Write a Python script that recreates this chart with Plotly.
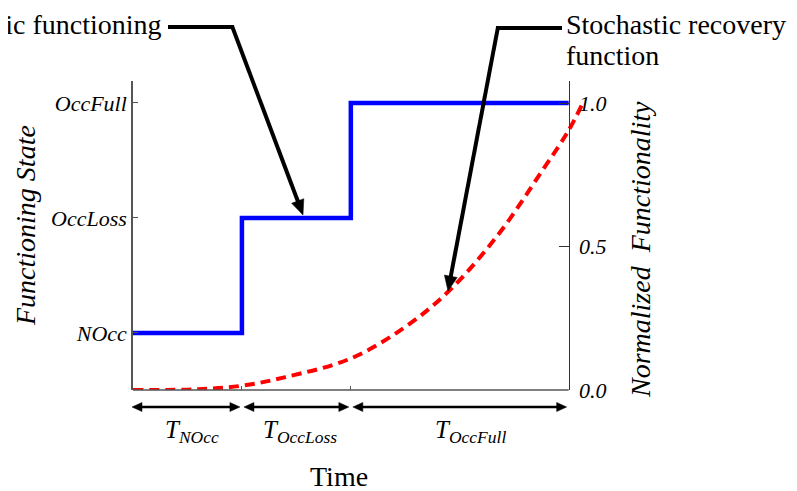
import math
import plotly.graph_objects as go

# ---- data ----
time_steps = [0, 1, 2, 4]
state_levels = [1, 2, 3, 3]
state_ticks = [1, 2, 3]
state_labels = ["NOcc", "OccLoss", "OccFull"]

rec_t = [0, 0.6, 1.0, 1.4, 2.0, 2.5, 2.9, 3.35, 3.75, 4.0, 4.13]
rec_v = [0, 0.003, 0.015, 0.045, 0.11, 0.22, 0.345, 0.54, 0.76, 0.905, 1.0]

func_ticks = [0.0, 0.5, 1.0]
func_labels = ["0.0", "0.5", "1.0"]

phase_starts = [0, 1, 2]
phase_ends = [1, 2, 4]
phase_labels = ["T<sub>NOcc</sub>", "T<sub>OccLoss</sub>", "T<sub>OccFull</sub>"]

# ---- layout constants (page has an 8px body margin) ----
OFF = 8
W, H = 797 - OFF, 491 - OFF
PLOT_L, PLOT_R, PLOT_T, PLOT_B = 133, 585, 81, 390   # page pixels of plot area
ML, MT = PLOT_L - OFF, PLOT_T - OFF
MR, MB = W - (PLOT_R - OFF), H - (PLOT_B - OFF)
PW, PH = PLOT_R - PLOT_L, PLOT_B - PLOT_T
XMAX = 4.15

def px2paper_x(px):
    return (px - PLOT_L) / PW

def px2paper_y(py):
    return (PLOT_B - py) / PH

def t2px(t):
    return PLOT_L + t / XMAX * PW

FONT = "Liberation Serif"
GREY = "#555555"

def arrow_shapes(x0, y0, x1, y1, lw, hl, hw, both=False, color="black"):
    """Arrow in page pixels, head at (x1, y1); returns plotly shapes in paper coords."""
    dx, dy = x1 - x0, y1 - y0
    L = math.hypot(dx, dy)
    ux, uy = dx / L, dy / L
    nx, ny = -uy, ux
    out = []

    def head(tx, ty, sx, sy):
        bx, by = tx - sx * hl, ty - sy * hl
        pts = [(tx, ty), (bx + nx * hw / 2, by + ny * hw / 2), (bx - nx * hw / 2, by - ny * hw / 2)]
        path = "M " + " L ".join(f"{px2paper_x(a):.5f},{px2paper_y(b):.5f}" for a, b in pts) + " Z"
        out.append(dict(type="path", xref="paper", yref="paper", path=path,
                        fillcolor=color, line=dict(color=color, width=0.5)))

    ex, ey = x1 - ux * hl * 0.6, y1 - uy * hl * 0.6
    sx0, sy0 = (x0 + ux * hl * 0.6, y0 + uy * hl * 0.6) if both else (x0, y0)
    out.append(dict(type="line", xref="paper", yref="paper",
                    x0=px2paper_x(sx0), y0=px2paper_y(sy0), x1=px2paper_x(ex), y1=px2paper_y(ey),
                    line=dict(color=color, width=lw)))
    head(x1, y1, ux, uy)
    if both:
        head(x0, y0, -ux, -uy)
    return out

fig = go.Figure()
fig.add_trace(go.Scatter(
    x=time_steps, y=state_levels, mode="lines",
    line=dict(shape="hv", color="#0000FF", width=4.5),
    yaxis="y", showlegend=False, hoverinfo="skip"))
fig.add_trace(go.Scatter(
    x=rec_t, y=rec_v, mode="lines",
    line=dict(shape="spline", smoothing=1, color="#FF0000", width=4, dash="10px,6px"),
    yaxis="y2", showlegend=False, hoverinfo="skip"))

annotations = []
shapes = []

# bottom axis line
shapes.append(dict(type="line", xref="x", yref="paper", x0=0, x1=4, y0=0, y1=0,
                   line=dict(color=GREY, width=1.5)))

# phase double arrows + labels
label_shift = [5, 4, 11]
for s, e, lab, sh in zip(phase_starts, phase_ends, phase_labels, label_shift):
    xs = t2px(s) + (2 if s > 0 else -1)
    xe = t2px(e) - 2
    shapes.extend(arrow_shapes(xs, 407, xe, 407, 2.5, 10, 9, both=True))
    annotations.append(dict(
        x=(s + e) / 2, y=px2paper_y(431), xref="x", yref="paper",
        xshift=sh, text=lab, showarrow=False, xanchor="center", yanchor="middle",
        font=dict(family=FONT, size=25, color="black", style="italic")))

# Time label
annotations.append(dict(x=px2paper_x(339), y=px2paper_y(477), xref="paper", yref="paper",
                        text="Time", showarrow=False, xanchor="center", yanchor="middle",
                        font=dict(family=FONT, size=28, color="black")))

# axis titles
annotations.append(dict(x=px2paper_x(25), y=px2paper_y(226), xref="paper", yref="paper",
                        text="Functioning State", textangle=-90, showarrow=False,
                        xanchor="center", yanchor="middle",
                        font=dict(family=FONT, size=28, color="black", style="italic")))
annotations.append(dict(x=px2paper_x(640), y=px2paper_y(250), xref="paper", yref="paper",
                        text="Normalized\u00a0 Functionality", textangle=-90, showarrow=False,
                        xanchor="center", yanchor="middle",
                        font=dict(family=FONT, size=28, color="black", style="italic")))

# callout texts
annotations.append(dict(x=px2paper_x(164), y=px2paper_y(24), xref="paper", yref="paper",
                        text="Deterministic functioning", showarrow=False,
                        xanchor="right", yanchor="middle",
                        font=dict(family=FONT, size=28, color="black")))
annotations.append(dict(x=px2paper_x(564), y=px2paper_y(24), xref="paper", yref="paper",
                        text="Stochastic recovery", showarrow=False,
                        xanchor="left", yanchor="middle",
                        font=dict(family=FONT, size=28, color="black")))
annotations.append(dict(x=px2paper_x(564), y=px2paper_y(56), xref="paper", yref="paper",
                        text="function", showarrow=False,
                        xanchor="left", yanchor="middle",
                        font=dict(family=FONT, size=28, color="black")))

# callout leaders: horizontal segment + slanted arrow
def hseg(xa, xb, y):
    return dict(type="line", xref="paper", yref="paper",
                x0=px2paper_x(xa), x1=px2paper_x(xb), y0=px2paper_y(y), y1=px2paper_y(y),
                line=dict(color="black", width=4))

shapes.append(hseg(168, 234, 27))
shapes.extend(arrow_shapes(232, 26, 303, 215, 4, 15, 13))
shapes.append(hseg(496, 562, 28))
shapes.extend(arrow_shapes(498, 27, 448, 291, 4, 15, 13))

fig.update_layout(
    width=W, height=H,
    margin=dict(l=ML, r=MR, t=MT, b=MB, pad=0),
    paper_bgcolor="white", plot_bgcolor="white",
    font=dict(family=FONT, color="black"),
    xaxis=dict(range=[0, XMAX], showline=False, showgrid=False, zeroline=False,
               tickvals=[1, 2], ticks="inside", ticklen=4, tickcolor=GREY,
               showticklabels=False, fixedrange=True),
    yaxis=dict(range=[0.504, 3.191], tickvals=state_ticks, ticktext=state_labels,
               ticks="inside", ticklen=5, tickcolor=GREY, tickwidth=1,
               showline=True, linecolor=GREY, linewidth=1.5,
               showgrid=False, zeroline=False,
               tickfont=dict(family=FONT, size=22, color="black", style="italic")),
    yaxis2=dict(range=[0, 1.077], overlaying="y", anchor="free", position=4 / XMAX,
                side="right", tickvals=func_ticks, ticktext=func_labels,
                ticks="inside", ticklen=10, tickcolor="#333333",
                showline=True, linecolor="#333333", linewidth=1,
                showgrid=False, zeroline=False, ticklabelstandoff=5,
                tickfont=dict(family=FONT, size=22, color="black", style="italic")),
    annotations=annotations, shapes=shapes,
)

fig.write_html("out.html")
